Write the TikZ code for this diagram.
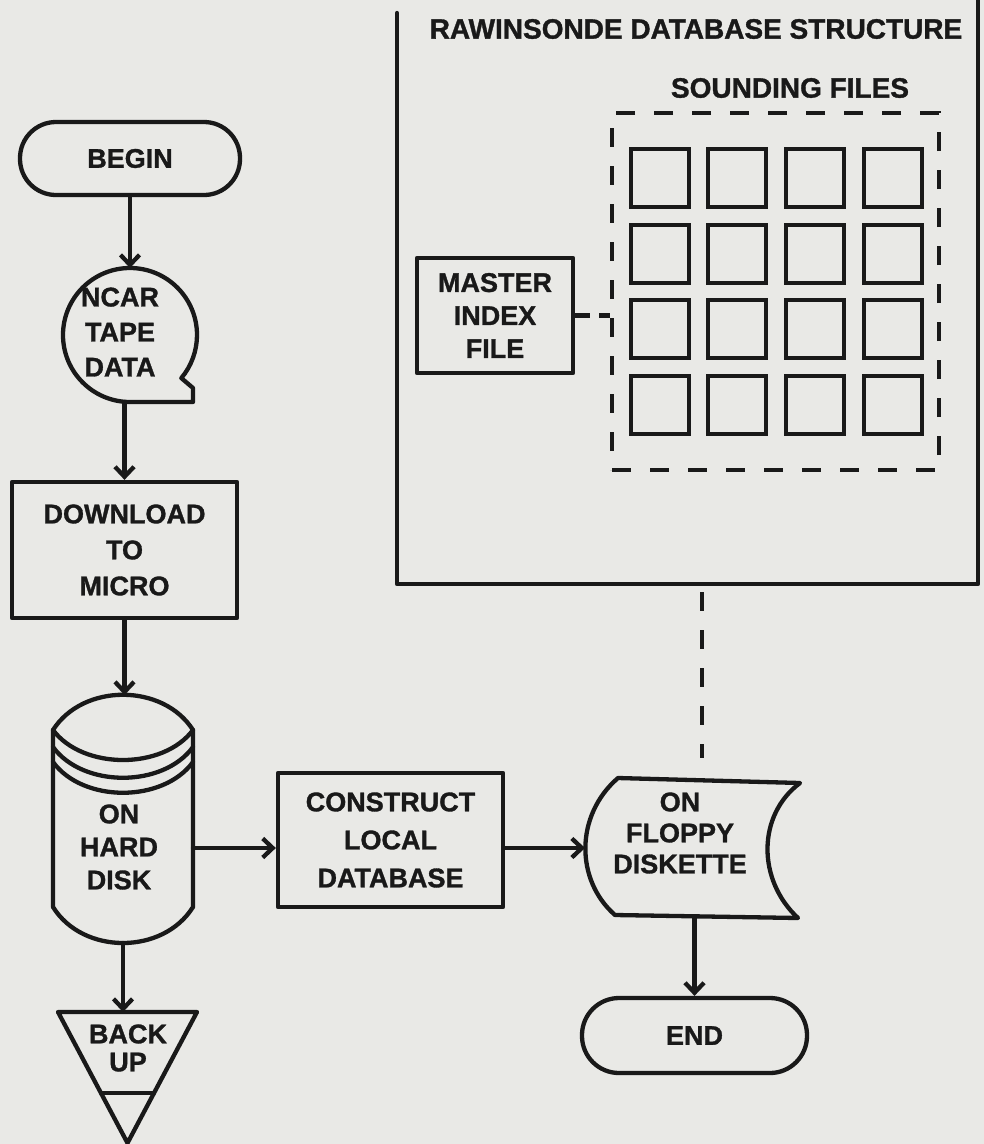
\documentclass[tikz,border=0pt]{standalone}
\usepackage{fontspec}
\setmainfont{Liberation Sans}[BoldFeatures={FakeBold=1.2}]
\usetikzlibrary{arrows.meta,calc}
\definecolor{paper}{RGB}{233,233,230}
\definecolor{ink}{RGB}{25,25,25}
\tikzset{
  lw/.style={line width=4.3pt, draw=ink, line join=round, line cap=round},
  txt/.style={font=\bfseries\fontsize{27}{36}\selectfont, text=ink, align=center, inner sep=0pt},
  term/.style={lw, txt, rectangle, rounded corners=36pt, minimum width=220pt, minimum height=73pt},
  procbox/.style={lw, txt, rectangle, inner sep=0pt},
  area/.style={rectangle, inner sep=0pt, outer sep=0pt, draw=none},
  arr/.style={lw, -{Straight Barb[length=10pt,width=19pt]}},
  dline/.style={line width=4.3pt, draw=ink, dash pattern=on 19pt off 19pt},
  fsq/.style={rectangle, draw=ink, line width=4pt, minimum width=58pt, minimum height=58pt, inner sep=0pt},
}
\begin{document}
\begin{tikzpicture}[x=1pt,y=1pt]
\fill[paper] (0,0) rectangle (984,-1144);
\useasboundingbox (0,0) rectangle (984,-1144);

% ---- left column ----
\node[term] (begin) at (130,-158.5) {BEGIN};

\node[area, circle, minimum size=134pt] (tape) at (130,-335) {};
\draw[lw] (tape.south) arc[start angle=270, end angle=-40, radius=67pt] -- (193,-388) -- (193,-402) -- cycle;
\node[txt, font=\bfseries\fontsize{27}{35}\selectfont] (tapetext) at (120,-332) {NCAR\\TAPE\\DATA};

\node[procbox, minimum width=225pt, minimum height=136pt] (download) at (124.5,-550) {DOWNLOAD\\TO\\MICRO};

\node[area, minimum width=140pt, minimum height=248pt] (disk) at (123,-819) {};
\draw[lw] (53,-730) .. controls (83,-683) and (163,-683) .. (193,-730) -- (193,-907)
  .. controls (163,-955) and (83,-955) .. (53,-907) -- cycle;
\draw[lw] (53,-730) .. controls (83,-770) and (163,-770) .. (193,-730);
\draw[lw] (53,-747) .. controls (83,-788) and (163,-788) .. (193,-747);
\draw[lw] (53,-762) .. controls (83,-803) and (163,-803) .. (193,-762);
\node[txt, font=\bfseries\fontsize{27}{33}\selectfont] (disktext) at (119,-847) {ON\\HARD\\DISK};

\node[area, minimum width=139pt, minimum height=131pt] (backup) at (127.5,-1077.5) {};
\draw[lw] (backup.north west) -- (backup.north east) -- (backup.south) -- cycle;
\draw[lw] ($(backup.north west)!0.62!(backup.south)$) -- ($(backup.north east)!0.62!(backup.south)$);
\node[txt, font=\bfseries\fontsize{27}{28}\selectfont] (backuptext) at (128,-1048) {BACK\\UP};

% ---- middle / right bottom ----
\node[procbox, minimum width=225pt, minimum height=134pt, font=\bfseries\fontsize{27}{38}\selectfont] (construct) at (390.5,-840) {CONSTRUCT\\LOCAL\\DATABASE};

\node[area, minimum width=215pt, minimum height=140pt] (floppy) at (692.5,-848) {};
\draw[lw] (618,-778) -- (800,-783) .. controls (757,-815) and (757,-880) .. (798,-918)
  -- (615,-915) .. controls (575,-880) and (575,-815) .. (618,-778) -- cycle;
\node[txt, font=\bfseries\fontsize{27}{31}\selectfont] (floppytext) at (680,-833) {ON\\FLOPPY\\DISKETTE};

\node[term, minimum width=225pt, minimum height=75pt, rounded corners=37pt] (end) at (694.5,-1035.5) {END};

% ---- database structure ----
\node[area, minimum width=581pt, minimum height=571pt] (dbbox) at (687.5,-298.5) {};
\draw[lw] (dbbox.north west) -- (dbbox.south west) -- (dbbox.south east) -- ([yshift=14pt]dbbox.north east);
\node[txt, font=\bfseries\fontsize{28}{34}\selectfont] (title) at (696,-29) {RAWINSONDE DATABASE STRUCTURE};
\node[txt, font=\bfseries\fontsize{28}{34}\selectfont] (sounding) at (790,-88) {SOUNDING FILES};

\node[rectangle, dline, inner sep=0pt, minimum width=327pt, minimum height=357pt] (sf) at (775.5,-291.5) {};
\foreach \i/\x in {1/660,2/736.5,3/815,4/892.5}
  \foreach \j/\y in {1/177.5,2/254,3/329,4/405}
    \node[fsq] (sq\j\i) at (\x,-\y) {};

\node[procbox, minimum width=156pt, minimum height=115pt, font=\bfseries\fontsize{27}{33}\selectfont] (master) at (495,-315.5) {MASTER\\INDEX\\FILE};
\draw[line width=4.3pt, draw=ink, dash pattern=on 15pt off 9pt] (master.east) -- (master.east -| sf.west);

% ---- connectors ----
\draw[arr] (begin.south) -- (tape.north);
\draw[arr] (download.north |- tape.south) -- (download.north);
\draw[arr] (download.south) -- (download.south |- disk.north);
\draw[arr] (disk.east |- floppy.west) -- (floppy.west -| construct.west);
\draw[arr] (construct.east |- floppy.west) -- (floppy.west);
\draw[arr] (end.north |- floppy.south) -- (end.north);
\draw[arr] (disk.south) -- (disk.south |- backup.north);
\coordinate (dlink) at (702,-780);
\draw[dline, shorten <=8pt, shorten >=22pt] (dbbox.south -| dlink) -- (dlink);
\end{tikzpicture}
\end{document}
